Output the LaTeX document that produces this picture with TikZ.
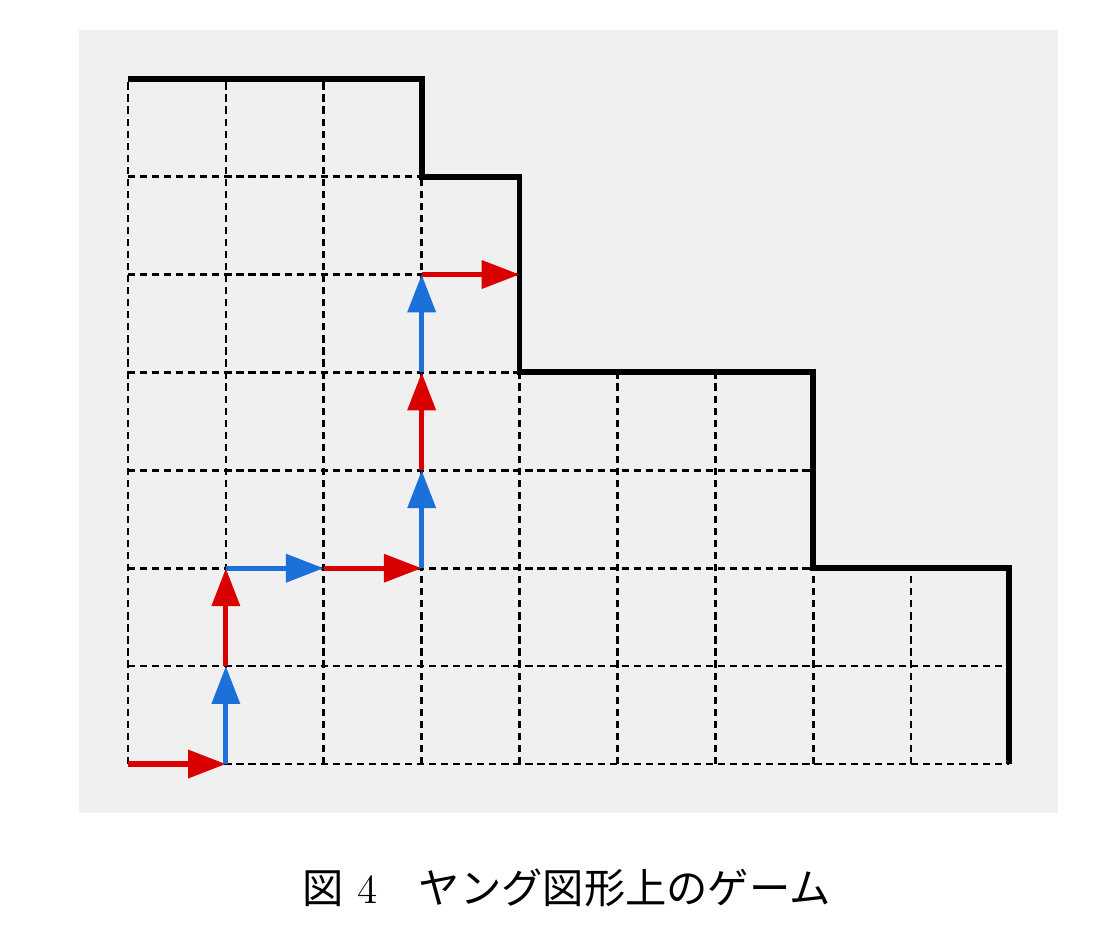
\documentclass[tikz,border=0pt]{standalone}
\usepackage{fontspec}
\newfontfamily\cjk{Noto Sans CJK JP}
\usetikzlibrary{arrows.meta}
\definecolor{MoveRed}{RGB}{218,0,0}
\definecolor{MoveBlue}{RGB}{28,112,218}
\definecolor{PanelGray}{RGB}{240,240,240}
\tikzset{
  cell/.style={draw=black,line width=0.75pt,dash pattern=on 2.1pt off 1.4pt},
  rim/.style={draw=black,line width=1.7pt,line join=miter},
  redmove/.style={draw=MoveRed,line width=1.5pt,-{Triangle[length=11pt,width=8pt]}},
  bluemove/.style={draw=MoveBlue,line width=1.5pt,-{Triangle[length=11pt,width=8pt]}},
}

\begin{document}
\begin{tikzpicture}
  \useasboundingbox (-1.307,-1.818) rectangle (9.949,7.804);
  \fill[PanelGray] (-0.5,-0.5) rectangle (9.5,7.5);

  % dashed cells
  \foreach \y/\len in {0/9,1/9,2/9,3/7,4/7,5/4,6/4}
    \draw[cell] (0,\y)--(\len,\y);
  \foreach \x/\h in {0/7,1/7,2/7,3/7,4/6,5/4,6/4,7/4,8/2}
    \draw[cell] (\x,0)--(\x,\h);

  % outer rim of the diagram
  \draw[rim] (0,7) -| (3,6) -| (4,4) -| (7,2) -| (9,0);

  % the moves
  \foreach \i/\x/\y in {0/0/0,1/1/0,2/1/1,3/1/2,4/2/2,5/3/2,6/3/3,7/3/4,8/3/5,9/4/5}
    \coordinate (p\i) at (\x,\y);
  \foreach \i/\j/\s in {0/1/redmove,1/2/bluemove,2/3/redmove,3/4/bluemove,4/5/redmove,
                        5/6/bluemove,6/7/redmove,7/8/bluemove,8/9/redmove}
    \draw[\s] (p\i)--(p\j);

  \node[font=\fontsize{12}{14}\selectfont] (caption) at (4.48,-1.27)
    {{\cjk 図} 4{\cjk 　ヤング図形上のゲーム}};
\end{tikzpicture}
\end{document}
